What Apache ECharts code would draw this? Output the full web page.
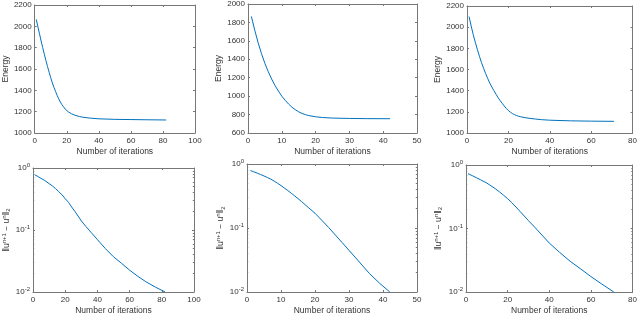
<!DOCTYPE html>
<html>
<head>
<meta charset="utf-8">
<script src="https://cdn.jsdelivr.net/npm/echarts@6/dist/echarts.min.js"></script>
<style>html,body{margin:0;padding:0;background:#fff}#c{width:640px;height:316px}</style>
</head>
<body>
<div id="c"></div>
<script>
// ---- data ----
const itA = [1,2,3,4,5,6,7,8,9,10,11,12,13,14,15,16,17,18,19,20,21,22,23,24,25,26,28,30,32,35,40,50,60,70,82];
const energyA = [2065,1995,1930,1863,1800,1738,1680,1623,1570,1518,1470,1428,1390,1353,1320,1290,1265,1245,1225,1210,1198,1188,1180,1173,1167,1162,1154,1148,1144,1139,1133,1128,1126,1124,1122];
const itB = [1,2,3,4,5,6,7,8,9,10,11,12,13,14,15,16,17,18,20,22,25,30,35,42];
const energyB = [1865,1715,1580,1460,1355,1265,1185,1115,1055,1000,955,915,880,852,830,812,799,789,776,768,762,758,756,755];
const itC = [1,2,3,4,5,6,7,8,9,10,11,12,13,14,15,16,17,18,19,20,21,22,23,24,25,26,28,30,33,36,40,50,60,71];
const energyC = [2100,2012,1930,1858,1790,1725,1665,1612,1562,1515,1472,1435,1400,1367,1335,1306,1280,1255,1232,1212,1196,1183,1173,1165,1158,1153,1145,1139,1132,1126,1121,1115,1112,1110];

const itD = [1,3,5,7,10,12,14,16,18,20,22,24,26,28,30,33,36,40,45,50,55,60,65,70,76,82];
const diffD = [0.78,0.73,0.68,0.635,0.56,0.515,0.465,0.415,0.37,0.32,0.28,0.235,0.2,0.168,0.14,0.113,0.092,0.07,0.05,0.037,0.029,0.0225,0.018,0.0147,0.012,0.01];
const itE = [1,2,3,4,5,6,7,8,9,10,11,12,13,14,15,16,18,20,22,24,28,32,36,39,42];
const diffE = [0.79,0.755,0.72,0.685,0.65,0.615,0.58,0.54,0.50,0.46,0.42,0.385,0.35,0.318,0.288,0.26,0.21,0.17,0.132,0.102,0.059,0.034,0.0195,0.0137,0.01];
const itF = [1,3,5,7,10,12,14,16,18,20,22,24,26,28,30,33,36,40,45,50,55,60,65,71];
const diffF = [0.73,0.68,0.63,0.585,0.52,0.47,0.425,0.38,0.335,0.295,0.255,0.218,0.185,0.157,0.133,0.105,0.082,0.059,0.042,0.0305,0.0232,0.0175,0.0135,0.01];

const xLabel = 'Number of iterations';
const energyLabel = 'Energy';
const diffLabel = '‖u{sup|n+1} − u{sup|n}‖{sub|2}';

// axis ranges
const xRanges = [[0,100,20],[0,50,10],[0,80,20],[0,100,20],[0,50,10],[0,80,20]];
const yRanges = [[1000,2200,200],[600,2000,200],[1000,2200,200]];

// ---- layout ----
const grids = [
  {left:28, top:5, width:167, height:128},
  {left:248, top:3, width:169, height:130},
  {left:467, top:6, width:168, height:127},
  {left:28, top:168, width:166, height:126},
  {left:247, top:164, width:170, height:130},
  {left:466, top:165, width:169, height:129}
];
const yNameGaps = [19,23,23,21,20,22];

const FONT = 'Liberation Sans';
const lineCol = '#777';
const textCol = '#333';
const blue = '#0072BD';

const minorVals = [];
for (let e = -2; e < 0; e++) for (let m = 2; m <= 9; m++) minorVals.push(m * Math.pow(10, e));

const xAxis = [], yAxis = [], series = [];
const supRich = {
  sup: {fontSize: 6, fontFamily: FONT, color: textCol, padding: [0,0,5,0]},
  sub: {fontSize: 6, fontFamily: FONT, color: textCol, padding: [4,0,0,0]}
};
const plain = v => String(v);

grids.forEach((g, i) => {
  const [xmin, xmax, xint] = xRanges[i];
  const isLog = i >= 3;
  xAxis.push({
    type: 'value', gridIndex: i, min: xmin, max: xmax, interval: xint,
    name: xLabel, nameLocation: 'middle', nameGap: 14,
    nameTextStyle: {fontFamily: FONT, fontSize: 8.5, color: textCol},
    axisLine: {show: true, lineStyle: {color: lineCol, width: 1}},
    axisTick: {show: true, inside: true, length: 2, lineStyle: {color: lineCol}},
    axisLabel: {fontFamily: FONT, fontSize: 8, color: textCol, margin: 4, formatter: plain},
    splitLine: {show: false}
  });
  xAxis.push({
    type: 'value', gridIndex: i, min: xmin, max: xmax, interval: xint, position: 'top',
    axisLine: {show: true, onZero: false, lineStyle: {color: lineCol, width: 1}},
    axisTick: {show: true, inside: true, length: 2, lineStyle: {color: lineCol}},
    axisLabel: {show: false}, splitLine: {show: false}
  });
  if (!isLog) {
    const [ymin, ymax, yint] = yRanges[i];
    yAxis.push({
      type: 'value', gridIndex: i, min: ymin, max: ymax, interval: yint,
      name: energyLabel, nameLocation: 'middle', nameGap: yNameGaps[i],
      nameTextStyle: {fontFamily: FONT, fontSize: 8.5, color: textCol},
      axisLine: {show: true, lineStyle: {color: lineCol, width: 1}},
      axisTick: {show: true, inside: true, length: 2, lineStyle: {color: lineCol}},
      axisLabel: {fontFamily: FONT, fontSize: 8, color: textCol, margin: 3, formatter: plain},
      splitLine: {show: false}
    });
    yAxis.push({
      type: 'value', gridIndex: i, min: ymin, max: ymax, interval: yint, position: 'right',
      axisLine: {show: true, onZero: false, lineStyle: {color: lineCol, width: 1}},
      axisTick: {show: true, inside: true, length: 2, lineStyle: {color: lineCol}},
      axisLabel: {show: false}, splitLine: {show: false}
    });
  } else {
    yAxis.push({
      type: 'log', logBase: 10, gridIndex: i, min: 0.01, max: 1,
      name: diffLabel, nameLocation: 'middle', nameGap: yNameGaps[i],
      nameTextStyle: {fontFamily: FONT, fontSize: 8.5, color: textCol, rich: supRich},
      axisLine: {show: true, lineStyle: {color: lineCol, width: 1}},
      axisTick: {show: true, inside: true, length: 2, lineStyle: {color: lineCol}},
      axisLabel: {fontFamily: FONT, fontSize: 8, color: textCol, margin: 3,
        formatter: v => '10{sup|' + Math.round(Math.log10(v)) + '}', rich: supRich},
      splitLine: {show: false}
    });
    yAxis.push({
      type: 'log', logBase: 10, gridIndex: i, min: 0.01, max: 1, position: 'right',
      axisLine: {show: true, onZero: false, lineStyle: {color: lineCol, width: 1}},
      axisTick: {show: true, inside: true, length: 2, lineStyle: {color: lineCol}},
      axisLabel: {show: false}, splitLine: {show: false}
    });
    yAxis.push({
      type: 'log', logBase: 10, gridIndex: i, min: 0.01, max: 1, position: 'left',
      axisLine: {show: false},
      axisTick: {show: true, inside: true, length: 1.2, customValues: minorVals, lineStyle: {color: lineCol}},
      axisLabel: {show: false}, splitLine: {show: false}
    });
    yAxis.push({
      type: 'log', logBase: 10, gridIndex: i, min: 0.01, max: 1, position: 'right',
      axisLine: {show: false},
      axisTick: {show: true, inside: true, length: 1.2, customValues: minorVals, lineStyle: {color: lineCol}},
      axisLabel: {show: false}, splitLine: {show: false}
    });
  }
});

const xIdx = i => i * 2;
const yIdx = i => (i < 3 ? i * 2 : 6 + (i - 3) * 4);

const sets = [[itA,energyA],[itB,energyB],[itC,energyC],[itD,diffD],[itE,diffE],[itF,diffF]];
sets.forEach(([xs, ys], i) => {
  series.push({
    type: 'line', xAxisIndex: xIdx(i), yAxisIndex: yIdx(i),
    data: xs.map((x, k) => [x, ys[k]]),
    smooth: false, showSymbol: false, symbol: 'none',
    lineStyle: {color: blue, width: 1}, animation: false
  });
});

const chart = echarts.init(document.getElementById('c'), null, {renderer: 'canvas'});
chart.setOption({
  animation: false,
  backgroundColor: '#fff',
  grid: grids.map(g => Object.assign({containLabel: false}, g)),
  xAxis, yAxis, series
});
</script>
</body>
</html>
